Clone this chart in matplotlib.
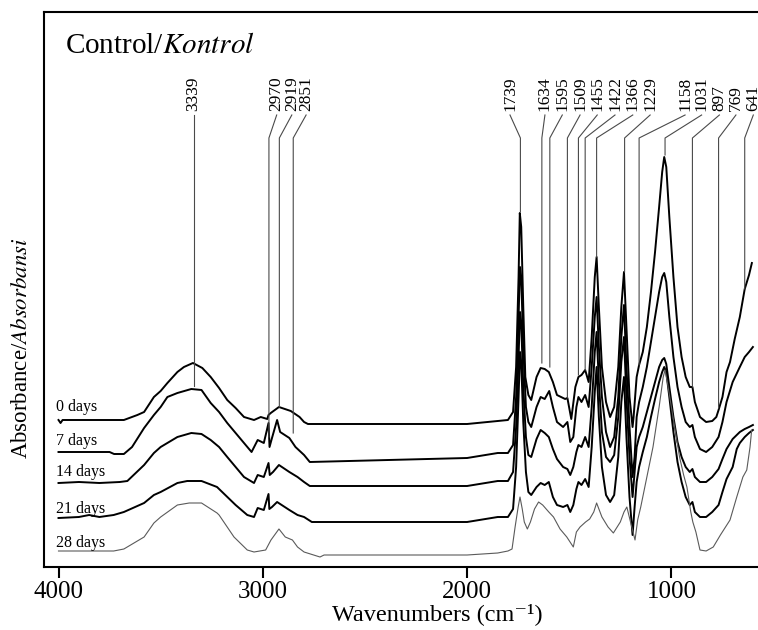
import numpy as np
import matplotlib
matplotlib.use("Agg")
import matplotlib.pyplot as plt

plt.rcParams['font.family'] = ['Liberation Serif', 'DejaVu Serif']
plt.rcParams['mathtext.fontset'] = 'stix'

# spectra: (wavenumber, absorbance in arbitrary units, offset included)
day0 = [(4000, 147), (3990, 144), (3980, 147), (3680, 147), (3614, 152), (3581, 155), (3533, 170),
        (3500, 176), (3467, 184), (3418, 195), (3386, 200), (3342, 204), (3296, 199), (3255, 190),
        (3214, 179), (3174, 167), (3133, 159), (3092, 150), (3043, 147), (3010, 150),
        (2978, 148), (2972, 152), (2961, 154), (2921, 160), (2863, 156), (2820, 150), (2798, 145),
        (2779, 143), (2000, 143), (1900, 145), (1800, 147), (1775, 155), (1760, 200), (1748, 290),
        (1742, 354), (1735, 340), (1725, 260), (1715, 190), (1700, 172), (1686, 167), (1660, 190),
        (1640, 199), (1620, 198), (1600, 195), (1580, 185), (1560, 172), (1520, 168), (1509, 169),
        (1490, 148), (1470, 180), (1455, 190), (1440, 192), (1422, 197), (1405, 185), (1390, 230),
        (1375, 290), (1366, 310), (1355, 260), (1340, 200), (1320, 165), (1300, 150), (1280, 160),
        (1260, 200), (1245, 260), (1232, 295), (1220, 240), (1205, 170), (1190, 140), (1185, 150),
        (1170, 190), (1158, 202), (1140, 215), (1120, 240), (1100, 275), (1080, 315), (1060, 360),
        (1045, 395), (1035, 410), (1025, 400), (1010, 350), (990, 290), (970, 240), (950, 210),
        (930, 190), (910, 180), (897, 180), (885, 165), (860, 150), (830, 145), (800, 146),
        (780, 150), (769, 157), (750, 170), (730, 195), (713, 205), (690, 228), (665, 250),
        (641, 278), (620, 292), (606, 304)]

day7 = [(4000, 115), (3750, 115), (3728, 113), (3680, 113), (3640, 120), (3581, 139), (3533, 152),
        (3500, 160), (3467, 170), (3418, 174), (3350, 178), (3300, 177), (3255, 164), (3214, 155),
        (3174, 144), (3133, 134), (3092, 124), (3055, 115),
        (3025, 127), (2995, 124), (2972, 144), (2967, 120), (2955, 129), (2930, 147), (2915, 135),
        (2870, 129), (2840, 120), (2798, 112), (2770, 105), (2000, 109), (1850, 114), (1800, 114),
        (1775, 122), (1760, 170), (1748, 250), (1741, 300), (1735, 290), (1725, 220), (1712, 160),
        (1700, 145), (1686, 140), (1660, 160), (1640, 170), (1620, 168), (1598, 176), (1580, 160),
        (1560, 145), (1530, 140), (1509, 145), (1495, 125), (1480, 130), (1465, 160), (1455, 170),
        (1440, 165), (1422, 172), (1405, 160), (1390, 200), (1375, 250), (1366, 270), (1355, 220),
        (1340, 170), (1320, 135), (1300, 120), (1280, 130), (1260, 170), (1245, 230), (1232, 262),
        (1220, 200), (1205, 140), (1190, 90), (1180, 110), (1170, 150), (1158, 165), (1140, 180),
        (1120, 200), (1100, 225), (1080, 250), (1060, 275), (1045, 290), (1035, 294), (1025, 285),
        (1010, 250), (990, 210), (970, 180), (950, 160), (930, 145), (910, 140), (897, 142),
        (885, 130), (860, 118), (830, 115), (800, 120), (769, 130), (750, 145), (730, 165),
        (700, 185), (665, 200), (641, 210), (620, 215), (601, 220)]

day14 = [(4000, 84), (3900, 85), (3800, 84), (3700, 85), (3663, 86), (3581, 102), (3533, 114),
         (3500, 120), (3418, 130), (3350, 134), (3300, 133), (3255, 127), (3214, 120), (3174, 110),
         (3133, 100), (3092, 90), (3043, 84), (3025, 92),
         (2995, 90), (2972, 104), (2966, 92), (2950, 95), (2921, 102), (2870, 95), (2830, 90),
         (2798, 85), (2770, 81), (2000, 81), (1850, 86), (1800, 86), (1775, 95), (1760, 140),
         (1748, 210), (1741, 255), (1735, 245), (1725, 180), (1712, 130), (1700, 112), (1686, 110),
         (1660, 128), (1640, 137), (1620, 134), (1600, 130), (1580, 118), (1560, 108), (1530, 100),
         (1509, 98), (1495, 92), (1480, 100), (1465, 115), (1455, 122), (1440, 120), (1422, 130),
         (1405, 120), (1390, 160), (1375, 215), (1366, 235), (1355, 185), (1340, 135), (1320, 110),
         (1300, 105), (1280, 112), (1260, 150), (1245, 205), (1232, 230), (1220, 170), (1205, 110),
         (1190, 70), (1180, 95), (1170, 120), (1158, 130), (1140, 140), (1120, 155), (1100, 170),
         (1080, 185), (1060, 200), (1045, 207), (1035, 209), (1025, 203), (1010, 180), (990, 150),
         (970, 125), (950, 110), (930, 100), (910, 95), (897, 98), (885, 90), (860, 85), (830, 85),
         (800, 90), (769, 98), (750, 108), (730, 118), (700, 128), (665, 135), (641, 138),
         (620, 140), (601, 142)]

day21 = [(4000, 49), (3900, 50), (3850, 52), (3800, 50), (3730, 52), (3680, 55), (3581, 64),
         (3533, 72), (3500, 75), (3418, 84), (3370, 86), (3300, 86), (3224, 80), (3214, 78),
         (3133, 62), (3076, 52),
         (3043, 50), (3025, 59), (2995, 57), (2972, 73), (2968, 58), (2955, 60), (2930, 65),
         (2870, 57), (2830, 52), (2798, 50), (2760, 45), (2000, 45), (1850, 50), (1800, 50),
         (1775, 58), (1760, 100), (1748, 170), (1741, 215), (1735, 205), (1725, 145), (1712, 95),
         (1700, 75), (1686, 72), (1660, 80), (1640, 84), (1620, 82), (1600, 85), (1580, 70),
         (1560, 62), (1530, 60), (1509, 62), (1495, 55), (1480, 62), (1465, 78), (1455, 85),
         (1440, 82), (1422, 88), (1405, 80), (1390, 120), (1375, 175), (1366, 200), (1355, 150),
         (1340, 100), (1320, 72), (1300, 65), (1280, 72), (1260, 110), (1245, 165), (1232, 190),
         (1220, 130), (1205, 70), (1190, 32), (1180, 60), (1170, 85), (1158, 100), (1140, 115),
         (1120, 130), (1100, 150), (1080, 168), (1060, 185), (1045, 195), (1035, 200), (1025, 195),
         (1010, 170), (990, 135), (970, 105), (950, 85), (930, 70), (910, 62), (897, 65), (885, 55),
         (860, 50), (830, 50), (800, 55), (769, 62), (750, 75), (730, 88), (700, 100), (680, 118),
         (665, 124), (641, 130), (620, 134), (601, 137)]

day28 = [(4000, 16), (3730, 16), (3680, 18), (3581, 30), (3533, 44), (3500, 50), (3418, 62),
         (3360, 64), (3300, 64), (3224, 54), (3214, 52), (3141, 30), (3076, 17), (3043, 15),
         (2986, 17), (2960, 27),
         (2921, 38), (2890, 30), (2855, 27), (2830, 20), (2798, 15), (2720, 10), (2700, 12),
         (2000, 12), (1850, 14), (1800, 16), (1780, 18), (1765, 40), (1750, 60), (1741, 70),
         (1730, 58), (1720, 45), (1705, 38), (1690, 45), (1670, 58), (1650, 65), (1630, 62),
         (1600, 55), (1577, 50), (1545, 38), (1512, 30), (1480, 20), (1465, 35), (1447, 40),
         (1420, 45), (1400, 48), (1380, 55), (1366, 64), (1340, 50), (1310, 40), (1284, 34),
         (1250, 45), (1232, 55), (1218, 60), (1200, 45), (1178, 27), (1165, 47), (1150, 60),
         (1120, 90), (1090, 120), (1060, 160), (1040, 190), (1031, 197), (1020, 185), (1000, 160),
         (980, 135), (960, 110), (940, 92), (924, 80), (905, 55), (895, 45), (880, 35), (860, 17),
         (830, 16), (795, 20), (760, 32), (713, 47), (680, 70), (650, 90), (631, 97), (615, 120),
         (607, 137)]

series = [day0, day7, day14, day21, day28]
day_labels = ['0 days', '7 days', '14 days', '21 days', '28 days']
label_y = [156, 122, 91, 54, 20]

# peak annotations
peak_wn = [3339, 2970, 2919, 2851, 1739, 1634, 1595, 1509, 1455, 1422, 1366, 1229,
           1158, 1031, 897, 769, 641]
text_wn = [3339, 2932, 2858, 2788, 1790, 1619, 1534, 1447, 1363, 1276, 1189, 1104,
           933, 852, 765, 684, 599]
line_end = [181, 130, 160, 134, 355, 204, 200, 169, 192, 197, 310, 295,
            202, 412, 180, 159, 278]

fig = plt.figure(figsize=(7.58, 6.3), dpi=100)
ax = fig.add_axes([44 / 758, 1 - 567 / 630, 714 / 758, 555 / 630])

for i, s in enumerate(series):
    wn = [p[0] for p in s]
    ab = [p[1] for p in s]
    if i < 4:
        ax.plot(wn, ab, color='black', lw=1.4)
    else:
        ax.plot(wn, ab, color='#5a5a5a', lw=0.8)
    ax.text(4012, label_y[i], day_labels[i], fontsize=11.5, ha='left', va='baseline')

for pw, tw, le in zip(peak_wn, text_wn, line_end):
    ax.plot([tw, pw, pw], [452, 429, le], color='#4a4a4a', lw=0.8)
    ax.text(tw, 456, str(pw), rotation=90, rotation_mode='anchor',
            ha='left', va='center', fontsize=12.5)

ax.text(3968, 514, r'Control/$\mathit{Kontrol}$', fontsize=21, ha='left', va='baseline')

ax.set_xlim(4071, 576)
ax.set_ylim(0, 555)
ax.set_xticks([4000, 3000, 2000, 1000])
ax.set_yticks([])
ax.tick_params(axis='x', direction='out', length=8, width=1.5, labelsize=18, pad=2)
for side in ['left', 'top', 'bottom']:
    ax.spines[side].set_linewidth(1.5)
ax.spines['right'].set_visible(False)

fig.text(437 / 758, 1 - 620 / 630, 'Wavenumbers (cm\u207b\u00b9)', ha='center', va='baseline',
         fontsize=17.5)
fig.text(21.7 / 758, 1 - 348 / 630, r'Absorbance/$\mathit{Absorbansi}$', rotation=90,
         ha='center', va='center', fontsize=16.5)

fig.savefig('out.png', dpi=100)
